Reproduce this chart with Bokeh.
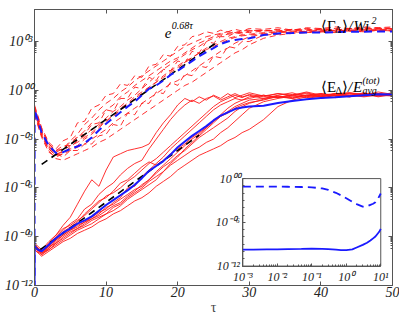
from bokeh.plotting import figure
from bokeh.models import (Range1d, LogAxis, LinearAxis, FixedTicker,
                          CustomJSTickFormatter, Label, LogScale)
from bokeh.embed import file_html
from bokeh.resources import INLINE

# ---------------- data (log10 of the plotted quantities) ----------------
TAU = [0, 1, 2, 3, 4, 5, 6, 7, 8, 9, 10, 11, 12, 13, 14, 15, 16, 17, 18, 19, 20,
       21, 22, 23, 24, 25, 26, 27, 28, 29, 30, 32, 34, 36, 38, 40, 42, 44, 46, 48, 50]

# individual realisations of <E_Delta>/E_avg^(tot) (solid red)
E1 = [-9.5, -9.9, -9.4, -8.9, -8.3, -7.8, -7.0, -6.2, -5.5, -5.9, -4.9, -4.1, -3.9, -3.7, -3.6, -3.5, -3.3, -2.6, -2.0, -1.5, -0.9,
      -0.5, -0.7, -0.4, -0.6, -0.3, -0.5, -0.2, -0.45, -0.3, -0.15, -0.35, -0.2, -0.3, -0.1, -0.3, -0.2, -0.15, -0.3, -0.1, -0.25]
E2 = [-9.7, -10.0, -9.6, -9.0, -8.6, -8.2, -7.9, -7.3, -7.0, -6.4, -6.0, -5.7, -5.2, -4.8, -4.5, -4.3, -3.6, -3.0, -2.4, -1.8, -1.3,
      -0.9, -0.6, -0.8, -0.5, -0.35, -0.6, -0.4, -0.2, -0.4, -0.3, -0.5, -0.3, -0.15, -0.4, -0.25, -0.35, -0.2, -0.25, -0.35, -0.2]
E3 = [-9.6, -10.1, -9.7, -9.3, -8.9, -8.6, -8.4, -8.1, -7.8, -7.5, -7.3, -6.9, -6.6, -6.0, -5.9, -5.3, -4.9, -4.5, -4.1, -3.6, -3.2,
      -2.8, -2.4, -2.0, -1.6, -1.2, -0.9, -0.7, -0.5, -0.6, -0.4, -0.3, -0.45, -0.25, -0.35, -0.2, -0.3, -0.4, -0.2, -0.3, -0.15]
E4 = [-9.8, -10.2, -9.9, -9.6, -9.3, -9.1, -8.8, -8.6, -8.4, -8.1, -7.9, -7.6, -7.4, -7.1, -6.8, -6.6, -6.3, -5.9, -5.6, -5.3, -4.9,
      -4.6, -4.3, -4.0, -3.8, -3.6, -3.4, -3.1, -2.9, -2.6, -2.4, -1.8, -1.0, -0.6, -0.4, -0.5, -0.3, -0.4, -0.25, -0.35, -0.3]
E5 = [-9.5, -9.9, -9.6, -9.4, -9.0, -8.7, -8.5, -8.3, -8.0, -7.8, -7.6, -7.2, -7.0, -6.6, -6.3, -6.0, -5.6, -5.3, -5.0, -4.6, -4.3,
      -4.0, -3.7, -3.5, -3.2, -3.0, -2.6, -2.3, -1.9, -1.5, -1.1, -0.7, -0.5, -0.35, -0.45, -0.3, -0.45, -0.3, -0.4, -0.3, -0.35]
E6 = [-9.4, -9.8, -9.3, -8.9, -8.5, -8.3, -8.0, -7.7, -7.3, -6.9, -6.5, -6.3, -6.0, -5.6, -5.3, -4.9, -4.5, -4.2, -3.8, -3.4, -3.0,
      -2.6, -2.2, -1.8, -1.4, -1.0, -0.7, -0.5, -0.3, -0.45, -0.25, -0.4, -0.2, -0.35, -0.2, -0.4, -0.25, -0.2, -0.35, -0.2, -0.3]
E7 = [-9.7, -10.0, -9.8, -9.5, -9.2, -8.9, -8.6, -8.4, -8.2, -7.9, -7.6, -7.4, -7.1, -6.7, -6.4, -6.1, -5.8, -5.5, -5.0, -4.5, -4.1,
      -3.6, -3.2, -2.8, -2.4, -2.0, -1.6, -1.3, -1.0, -0.8, -0.6, -0.5, -0.35, -0.5, -0.3, -0.4, -0.2, -0.35, -0.15, -0.3, -0.2]
E8 = [-9.6, -9.9, -9.5, -9.2, -8.7, -8.4, -8.1, -7.6, -7.2, -6.8, -6.6, -6.2, -5.7, -5.5, -5.1, -4.7, -4.4, -4.6, -4.3, -3.9, -3.6,
      -3.3, -2.9, -2.6, -2.3, -1.9, -1.5, -1.1, -0.8, -0.6, -0.5, -0.3, -0.45, -0.3, -0.15, -0.35, -0.3, -0.15, -0.25, -0.2, -0.35]
E9 = [-9.5, -10.0, -9.7, -9.2, -8.9, -8.6, -8.3, -8.1, -7.9, -7.6, -7.2, -7.0, -6.7, -6.4, -6.1, -5.9, -5.5, -5.1, -4.7, -4.4, -4.0,
      -3.7, -3.3, -2.9, -2.6, -2.3, -2.0, -1.7, -1.3, -1.0, -0.8, -0.55, -0.4, -0.5, -0.3, -0.2, -0.35, -0.3, -0.2, -0.4, -0.25]
E10 = [-9.8, -10.1, -9.8, -9.4, -9.1, -8.8, -8.5, -8.2, -7.9, -7.7, -7.4, -7.1, -6.9, -6.5, -6.2, -5.8, -5.5, -5.0, -4.6, -4.2, -3.8,
       -3.4, -3.0, -2.7, -2.3, -1.9, -1.6, -1.4, -1.1, -0.9, -0.75, -0.6, -0.35, -0.45, -0.3, -0.4, -0.2, -0.3, -0.35, -0.2, -0.3]

# individual realisations of <Gamma_Delta>/Wi^2 (dashed red)
G1 = [-0.9, -2.3, -3.2, -3.6, -3.1, -2.9, -2.0, -1.9, -1.1, -0.9, -0.3, -0.2, 0.4, 0.3, 0.9, 0.8, 1.5, 1.6, 2.2, 2.1, 2.7,
      2.8, 3.3, 3.4, 3.6, 3.5, 3.7, 3.6, 3.75, 3.65, 3.8, 3.75, 3.85, 3.7, 3.85, 3.8, 3.9, 3.8, 3.9, 3.85, 3.9]
G2 = [-1.1, -2.5, -3.4, -3.8, -3.6, -3.1, -2.7, -2.1, -1.7, -1.2, -0.8, -0.5, -0.1, 0.2, 0.6, 0.9, 1.2, 1.5, 1.8, 2.1, 2.4,
      2.7, 2.9, 3.1, 3.3, 3.4, 3.5, 3.6, 3.55, 3.65, 3.7, 3.65, 3.75, 3.7, 3.8, 3.75, 3.8, 3.75, 3.85, 3.8, 3.85]
G3 = [-1.2, -2.6, -3.5, -3.9, -3.8, -3.6, -3.4, -3.0, -2.7, -2.3, -1.9, -1.6, -1.2, -0.9, -0.5, -0.2, 0.2, 0.5, 0.8, 1.1, 1.4,
      1.7, 2.0, 2.3, 2.6, 2.8, 3.0, 3.2, 3.3, 3.4, 3.45, 3.55, 3.6, 3.55, 3.65, 3.6, 3.7, 3.65, 3.7, 3.65, 3.7]
G4 = [-1.4, -2.8, -3.7, -4.2, -4.3, -4.1, -3.9, -3.7, -3.5, -3.2, -3.0, -2.7, -2.4, -2.1, -1.8, -1.5, -1.2, -0.9, -0.6, -0.3, 0.0,
      0.3, 0.5, 0.8, 1.1, 1.4, 1.7, 2.0, 2.3, 2.5, 2.8, 3.2, 3.4, 3.5, 3.55, 3.6, 3.55, 3.65, 3.6, 3.7, 3.65]
G5 = [-1.0, -2.4, -3.3, -3.7, -3.4, -3.4, -2.8, -2.7, -2.1, -2.0, -1.2, -1.3, -0.5, -0.5, 0.2, 0.1, 0.8, 0.6, 1.3, 1.2, 1.8,
      1.7, 2.4, 2.3, 3.0, 2.9, 3.3, 3.3, 3.55, 3.45, 3.65, 3.7, 3.6, 3.75, 3.65, 3.8, 3.7, 3.8, 3.75, 3.85, 3.75]
G6 = [-1.3, -2.7, -3.6, -4.0, -3.9, -3.7, -3.5, -3.3, -3.0, -2.7, -2.4, -2.0, -1.7, -1.4, -1.1, -0.8, -0.5, -0.2, 0.1, 0.4, 0.6,
      0.9, 1.2, 1.5, 1.8, 2.1, 2.4, 2.6, 2.9, 3.1, 3.3, 3.45, 3.55, 3.6, 3.6, 3.7, 3.65, 3.7, 3.75, 3.7, 3.75]
G7 = [-1.5, -2.9, -3.8, -4.1, -3.9, -3.5, -3.1, -2.8, -2.4, -2.1, -1.7, -1.3, -1.0, -0.6, -0.3, 0.1, 0.5, 0.9, 1.3, 1.6, 1.9,
      2.2, 2.5, 2.7, 3.0, 3.2, 3.35, 3.45, 3.5, 3.6, 3.55, 3.65, 3.7, 3.65, 3.75, 3.7, 3.75, 3.7, 3.8, 3.75, 3.8]
G8 = [-1.2, -2.6, -3.5, -3.9, -4.1, -3.7, -3.7, -3.3, -3.3, -2.8, -2.7, -2.1, -2.2, -1.4, -1.5, -0.8, -0.8, -0.1, -0.2, 0.5, 0.3,
      1.0, 0.9, 1.5, 1.4, 2.1, 2.0, 2.7, 2.6, 3.0, 3.0, 3.4, 3.45, 3.6, 3.55, 3.6, 3.6, 3.65, 3.6, 3.7, 3.65]
G9 = [-1.0, -2.4, -3.3, -3.7, -3.6, -3.2, -2.9, -2.5, -2.0, -1.6, -1.2, -0.9, -0.4, -0.1, 0.3, 0.6, 0.9, 1.2, 1.5, 1.8, 2.0,
      2.3, 2.6, 2.9, 3.1, 3.3, 3.45, 3.5, 3.6, 3.55, 3.65, 3.7, 3.65, 3.75, 3.7, 3.75, 3.7, 3.8, 3.75, 3.8, 3.8]
G10 = [-1.4, -2.8, -3.6, -4.0, -3.7, -3.4, -3.2, -2.9, -2.6, -2.2, -1.9, -1.5, -1.1, -0.8, -0.4, -0.1, 0.2, 0.5, 0.9, 1.2, 1.5,
       1.8, 2.0, 2.3, 2.5, 2.7, 2.9, 3.1, 3.25, 3.35, 3.4, 3.5, 3.6, 3.65, 3.6, 3.7, 3.65, 3.7, 3.65, 3.75, 3.7]

# ensemble means (blue)
MEAN_TAU = [0, 0.02, 0.5, 1, 2, 3, 4, 5, 6, 7, 8, 9, 10, 11, 12, 13, 14, 15, 16, 17, 18, 19, 20,
            21, 22, 23, 24, 25, 26, 27, 28, 29, 30, 32, 34, 36, 38, 40, 42, 44, 46, 48, 50]
MEAN_E = [-13, -9.6, -9.8, -9.9, -9.5, -9.1, -8.75, -8.5, -8.2, -8.0, -7.75, -7.4, -7.05, -6.75, -6.45, -6.15, -5.8, -5.4,
          -4.95, -4.65, -4.35, -3.95, -3.5, -3.15, -2.8, -2.5, -2.2, -1.85, -1.55, -1.35, -1.15, -1.05, -1.0,
          -0.95, -0.78, -0.65, -0.55, -0.47, -0.42, -0.36, -0.3, -0.24, -0.25]
MEAN_G = [-13, -1.2, -1.9, -2.6, -3.4, -3.85, -3.8, -3.6, -3.45, -3.25, -2.9, -2.45, -2.05, -1.7, -1.35, -1.0, -0.7, -0.3,
          0.1, 0.3, 0.6, 0.95, 1.2, 1.5, 1.8, 2.1, 2.35, 2.6, 2.85, 3.0, 3.1, 3.15, 3.2,
          3.4, 3.5, 3.52, 3.55, 3.55, 3.58, 3.6, 3.6, 3.62, 3.62]

# exponential fits e^{0.68 tau}: straight segments on the log axis (end points)
FIT_TAU_G = [1.0, 25.3]
FIT_G = [-4.55, 2.9]
FIT_TAU_E = [0.8, 23.0]
FIT_E = [-9.8, -2.75]

# inset (log-log), early times
IN_TAU = [0.001, 0.002, 0.005, 0.01, 0.02, 0.05, 0.1, 0.2, 0.3, 0.5, 0.7, 1, 1.5, 2, 3, 4, 5, 6, 7, 8, 9, 10]
IN_G = [-1.1, -1.1, -1.1, -1.1, -1.12, -1.15, -1.2, -1.35, -1.55, -1.95, -2.3, -2.7, -3.2, -3.5, -3.85, -3.8,
        -3.6, -3.45, -3.25, -2.9, -2.45, -2.05]
IN_E = [-9.75, -9.75, -9.72, -9.7, -9.68, -9.65, -9.62, -9.64, -9.68, -9.75, -9.8, -9.8, -9.7, -9.45, -9.1, -8.8,
        -8.5, -8.2, -7.95, -7.6, -7.3, -6.9]

X_TICKS = [0, 10, 20, 30, 40, 50]
Y_TICKS_EXP = [-12, -9, -6, -3, 0, 3]
IN_X_TICKS_EXP = [-3, -2, -1, 0, 1]
IN_Y_TICKS_EXP = [-12, -6, 0]
INSET_X = (1e-3, 10.0)
INSET_Y = (1e-12, 1.0)

# ---------------- styling / layout constants ----------------
FONT = "Liberation Serif"
RED = "#ff1a1a"
BLUE = "#1a1aff"
AX = "#555555"

W, H = 399, 317
BL, BR, BT, BB = 26, 7, 9, 24
FW, FH = W - BL - BR, H - BT - BB
# inset box in frame pixels (from left, from bottom)
IX0, IX1, IY0, IY1 = 213, 354, 20, 110


def p10(v):
    return [10.0 ** a for a in v]


p = figure(width=W, height=H, y_axis_type="log",
           x_range=Range1d(0, 50), y_range=Range1d(1e-12, 10 ** 4.97),
           output_backend="svg", toolbar_location=None,
           min_border_left=BL, min_border_right=BR, min_border_top=BT, min_border_bottom=BB)
p.background_fill_color = "white"
p.border_fill_color = "white"
p.outline_line_color = AX
p.xgrid.visible = False
p.ygrid.visible = False

# extra scales for the inset, mapped onto its box inside the frame
lx0, lx1 = -3.0, 1.0
ly0, ly1 = -12.0, 0.0
dx = (lx1 - lx0) / (IX1 - IX0)
dy = (ly1 - ly0) / (IY1 - IY0)
p.extra_x_ranges = {"ix": Range1d(10 ** (lx0 - IX0 * dx), 10 ** (lx1 + (FW - IX1) * dx))}
p.extra_y_ranges = {"iy": Range1d(10 ** (ly0 - IY0 * dy), 10 ** (ly1 + (FH - IY1) * dy))}
p.extra_x_scales = {"ix": LogScale()}
p.extra_y_scales = {"iy": LogScale()}

SUP = """const sup = {"0":"\u2070","1":"\u00b9","2":"\u00b2","3":"\u00b3","4":"\u2074","5":"\u2075",
"6":"\u2076","7":"\u2077","8":"\u2078","9":"\u2079","-":"\u207b"};"""
fmt_pad = CustomJSTickFormatter(code=SUP + """
const e = Math.round(Math.log10(tick));
const s = (e < 0 ? "-" : "") + String(Math.abs(e)).padStart(2, "0");
return "10" + s.split("").map(c => sup[c]).join("");
""")
fmt_short = CustomJSTickFormatter(code=SUP + """
const e = Math.round(Math.log10(tick));
const s = String(e);
return "10" + s.split("").map(c => sup[c]).join("");
""")
fmt_none = CustomJSTickFormatter(code='return "";')

y_major = [10.0 ** e for e in Y_TICKS_EXP]
y_minor = [n * 10.0 ** (e - 1) for e in Y_TICKS_EXP[1:] for n in range(2, 10)]


def style_axis(ax, size="14px", labels=True):
    ax.axis_line_color = AX
    ax.major_tick_line_color = AX
    ax.minor_tick_line_color = AX
    ax.major_tick_in = 4
    ax.major_tick_out = 0
    ax.minor_tick_in = 2
    ax.minor_tick_out = 0
    ax.major_label_text_font = FONT
    ax.major_label_text_font_style = "italic"
    ax.major_label_text_color = "#222222"
    ax.major_label_text_font_size = size
    if not labels:
        ax.formatter = fmt_none
        ax.major_label_standoff = 0


# main axes
xa = p.xaxis[0]
xa.ticker = FixedTicker(ticks=X_TICKS)
style_axis(xa)
xa.major_label_standoff = 1
xa.axis_label = "\u03c4"
xa.axis_label_text_font = FONT
xa.axis_label_text_font_style = "normal"
xa.axis_label_text_font_size = "14px"
xa.axis_label_standoff = 0

ya = p.yaxis[0]
ya.ticker = FixedTicker(ticks=y_major, minor_ticks=y_minor)
ya.formatter = fmt_pad
style_axis(ya)
ya.major_label_standoff = 2

top = LinearAxis(ticker=FixedTicker(ticks=X_TICKS))
style_axis(top, size="2px", labels=False)
p.add_layout(top, "above")
right = LogAxis(ticker=FixedTicker(ticks=y_major, minor_ticks=y_minor))
style_axis(right, size="2px", labels=False)
p.add_layout(right, "right")

# red realisations
for g in [G1, G2, G3, G4, G5, G6, G7, G8, G9, G10]:
    p.line(TAU, p10(g), line_color=RED, line_width=0.9, line_dash="6 4")
for e in [E1, E2, E3, E4, E5, E6, E7, E8, E9, E10]:
    p.line(TAU, p10(e), line_color=RED, line_width=0.9)

# exponential fits
p.line(FIT_TAU_G, p10(FIT_G), line_color="black", line_width=1.6, line_dash="7 5")
p.line(FIT_TAU_E, p10(FIT_E), line_color="black", line_width=1.6, line_dash="7 5")

# means
p.line(MEAN_TAU, p10(MEAN_G), line_color=BLUE, line_width=2, line_dash="8 5")
p.line(MEAN_TAU, p10(MEAN_E), line_color=BLUE, line_width=2)

# inset
p.quad(left=INSET_X[0], right=INSET_X[1], bottom=INSET_Y[0], top=INSET_Y[1],
       x_range_name="ix", y_range_name="iy", fill_color="white", line_color=AX, line_width=1)
p.line(IN_TAU, p10(IN_G), x_range_name="ix", y_range_name="iy", line_color=BLUE, line_width=1.8, line_dash="8 5")
p.line(IN_TAU, p10(IN_E), x_range_name="ix", y_range_name="iy", line_color=BLUE, line_width=1.8)

ib = LogAxis(x_range_name="ix", y_range_name="iy", fixed_location=INSET_Y[0], bounds=INSET_X,
             ticker=FixedTicker(ticks=[10.0 ** e for e in IN_X_TICKS_EXP],
                                minor_ticks=[n * 10.0 ** e for e in IN_X_TICKS_EXP[:-1] for n in range(2, 10)]),
             formatter=fmt_short)
style_axis(ib, size="12px")
ib.major_tick_in = 3
ib.major_label_standoff = 4
p.add_layout(ib, "below")

il = LogAxis(x_range_name="ix", y_range_name="iy", fixed_location=INSET_X[0], bounds=INSET_Y,
             ticker=FixedTicker(ticks=[10.0 ** e for e in IN_Y_TICKS_EXP],
                                minor_ticks=[10.0 ** e for e in range(-11, 0)]),
             formatter=fmt_pad)
style_axis(il, size="12px")
il.major_tick_in = 3
il.major_label_standoff = 3
p.add_layout(il, "left")


# rich text labels
def rich(x, y, pieces):
    for text, size, ox, oy, st in pieces:
        p.add_layout(Label(x=x, y=y, x_offset=ox, y_offset=oy, text=text,
                           text_font=FONT, text_font_size=f"{size}px", text_font_style=st,
                           text_baseline="alphabetic", text_align="left", text_color="black"))


rich(40.0, 10 ** 3.95, [("\u27e8\u0393", 15, 0, 0, "normal"), ("\u0394", 10, 14, -3, "normal"),
                        ("\u27e9", 15, 21.5, 0, "normal"), ("/", 15, 27.5, 0, "italic"),
                        ("Wi", 15, 32.5, 0, "italic"), ("2", 10, 50.5, 6, "italic")])
rich(40.0, 10 ** 0.18, [("\u27e8E", 15, 0, 0, "normal"), ("\u0394", 10, 14.5, -3, "normal"),
                        ("\u27e9", 15, 21.5, 0, "normal"), ("/", 15, 27, 0, "italic"),
                        ("E", 15, 32, 0, "italic"), ("avg", 10, 41.5, -3, "italic"),
                        ("(tot)", 10, 41.5, 7, "italic")])
rich(18.2, 10 ** 3.53, [("e", 15, 0, 0, "italic"), ("0.68\u03c4", 10, 7, 7, "italic")])

open("out.html", "w").write(file_html(p, INLINE))
